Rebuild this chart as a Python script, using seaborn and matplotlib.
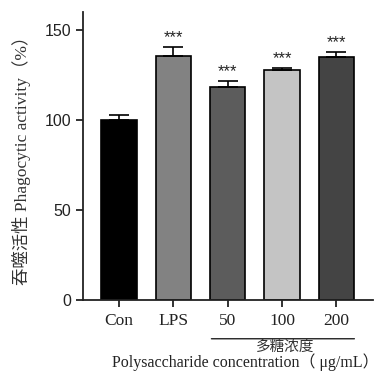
import matplotlib
matplotlib.use("Agg")
import matplotlib.pyplot as plt
import seaborn as sns
import pandas as pd

groups = ["Con", "LPS", "50", "100", "200"]
activity = [100.0, 135.5, 118.5, 127.8, 135.0]
errors = [3.0, 5.0, 3.2, 1.2, 2.6]
stars = ["", "***", "***", "***", "***"]
bar_colors = ["#000000", "#828282", "#5c5c5c", "#c4c4c4", "#444444"]

df = pd.DataFrame({"group": groups, "activity": activity})

sns.set_theme(style="ticks")
plt.rcParams["font.family"] = ["Liberation Sans", "Noto Sans CJK SC"]
serif = ["Liberation Serif", "Noto Sans CJK SC"]

fig = plt.figure(figsize=(3.79, 3.76), dpi=100)
ax = fig.add_axes([0.219, 0.202, 0.765, 0.766])

sns.barplot(data=df, x="group", y="activity", hue="group", palette=bar_colors,
            width=0.65, edgecolor="black", linewidth=1.2, legend=False, ax=ax)

for i, (v, e) in enumerate(zip(activity, errors)):
    ax.errorbar(i, v, yerr=[[0], [e]], fmt="none", ecolor="black",
                elinewidth=1.2, capsize=7, capthick=1.2)
    if stars[i]:
        ax.text(i, v + e + 1.0, stars[i], ha="center", va="bottom",
                fontsize=12, color="#222222")

ax.set_ylim(0, 160)
ax.set_xlim(-0.66, 4.67)
ax.set_yticks([0, 50, 100, 150])
ax.tick_params(axis="y", labelsize=11.5, width=1.3, length=5, colors="#222222")
ax.tick_params(axis="x", width=1.3, length=5, pad=4, colors="#222222")
for lab in ax.get_xticklabels():
    lab.set_fontfamily(serif)
    lab.set_fontsize(12.5)
sns.despine(ax=ax)
for sp in ["left", "bottom"]:
    ax.spines[sp].set_linewidth(1.3)
    ax.spines[sp].set_color("#222222")

ax.set_xlabel("")
ax.set_ylabel("吞噬活性 Phagocytic activity（%）", family=serif, fontsize=12.5,
              color="#333333", labelpad=10)

# bracket under concentration groups
ax.annotate("", xy=(1.65, -21.5), xytext=(4.38, -21.5), xycoords="data",
            arrowprops=dict(arrowstyle="-", color="#222222", lw=1.0),
            annotation_clip=False)
ax.text(3.05, -22.5, "多糖浓度", ha="center", va="top", fontsize=10.5,
        family=serif, color="#333333", clip_on=False)
fig.text(0.296, 0.012, "Polysaccharide concentration（ μg/mL）", ha="left",
         va="bottom", fontsize=11.5, family=serif, color="#222222")

fig.savefig("out.png", dpi=100)
